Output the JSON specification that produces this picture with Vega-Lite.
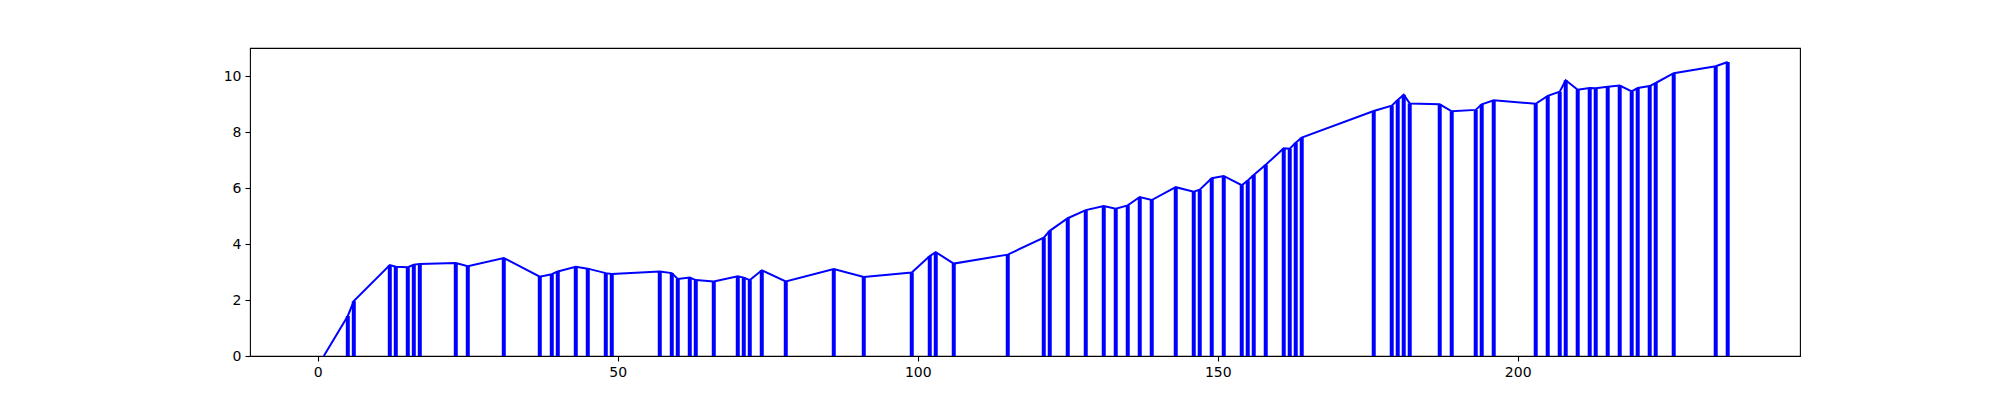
{
  "$schema": "https://vega.github.io/schema/vega-lite/v6.json",
  "autosize": {"type": "none"},
  "padding": {"left": 250, "top": 48, "right": 200, "bottom": 44},
  "width": 1550,
  "height": 308,
  "background": "white",
  "config": {
    "view": {"stroke": "black", "strokeWidth": 1.1},
    "axis": {
      "grid": false,
      "domain": false,
      "ticks": true,
      "tickColor": "black",
      "tickSize": 5,
      "tickWidth": 1.1,
      "labelFont": "DejaVu Sans",
      "labelFontSize": 14,
      "labelColor": "black",
      "labelPadding": 4,
      "title": null
    }
  },
  "data": {
    "values": [
      {"x": 1, "v": 0},
      {"x": 5, "v": 1.43},
      {"x": 6, "v": 1.96},
      {"x": 12, "v": 3.25},
      {"x": 13, "v": 3.19},
      {"x": 15, "v": 3.17},
      {"x": 16, "v": 3.26},
      {"x": 17, "v": 3.29},
      {"x": 23, "v": 3.32},
      {"x": 25, "v": 3.21},
      {"x": 31, "v": 3.5},
      {"x": 37, "v": 2.83},
      {"x": 39, "v": 2.92},
      {"x": 40, "v": 3.02},
      {"x": 43, "v": 3.19},
      {"x": 45, "v": 3.12},
      {"x": 48, "v": 2.96},
      {"x": 49, "v": 2.93},
      {"x": 57, "v": 3.02},
      {"x": 59, "v": 2.96},
      {"x": 60, "v": 2.75},
      {"x": 62, "v": 2.8},
      {"x": 63, "v": 2.71},
      {"x": 66, "v": 2.66},
      {"x": 70, "v": 2.85},
      {"x": 71, "v": 2.8},
      {"x": 72, "v": 2.71},
      {"x": 74, "v": 3.06},
      {"x": 78, "v": 2.66},
      {"x": 86, "v": 3.11},
      {"x": 91, "v": 2.82},
      {"x": 99, "v": 2.98},
      {"x": 102, "v": 3.57},
      {"x": 103, "v": 3.71},
      {"x": 106, "v": 3.3},
      {"x": 115, "v": 3.62},
      {"x": 121, "v": 4.23},
      {"x": 122, "v": 4.47},
      {"x": 125, "v": 4.92},
      {"x": 128, "v": 5.21},
      {"x": 131, "v": 5.36},
      {"x": 133, "v": 5.26},
      {"x": 135, "v": 5.38},
      {"x": 137, "v": 5.68},
      {"x": 139, "v": 5.57},
      {"x": 143, "v": 6.03},
      {"x": 146, "v": 5.87},
      {"x": 147, "v": 5.94},
      {"x": 149, "v": 6.35},
      {"x": 151, "v": 6.43},
      {"x": 154, "v": 6.1},
      {"x": 155, "v": 6.27},
      {"x": 156, "v": 6.46},
      {"x": 158, "v": 6.83},
      {"x": 161, "v": 7.42},
      {"x": 162, "v": 7.4},
      {"x": 163, "v": 7.62},
      {"x": 164, "v": 7.8},
      {"x": 176, "v": 8.75},
      {"x": 179, "v": 8.94},
      {"x": 180, "v": 9.14},
      {"x": 181, "v": 9.33},
      {"x": 182, "v": 9.02},
      {"x": 187, "v": 8.99},
      {"x": 189, "v": 8.74},
      {"x": 193, "v": 8.79},
      {"x": 194, "v": 8.99},
      {"x": 196, "v": 9.13},
      {"x": 203, "v": 9.01},
      {"x": 205, "v": 9.29},
      {"x": 207, "v": 9.44},
      {"x": 208, "v": 9.85},
      {"x": 210, "v": 9.51},
      {"x": 212, "v": 9.57},
      {"x": 213, "v": 9.56},
      {"x": 215, "v": 9.62},
      {"x": 217, "v": 9.66},
      {"x": 219, "v": 9.45},
      {"x": 220, "v": 9.57},
      {"x": 222, "v": 9.64},
      {"x": 223, "v": 9.75},
      {"x": 226, "v": 10.1},
      {"x": 233, "v": 10.35},
      {"x": 235, "v": 10.5}
    ]
  },
  "encoding": {
    "x": {
      "field": "x",
      "type": "quantitative",
      "scale": {"domain": [-11.3, 247.05], "nice": false, "zero": false},
      "axis": {"values": [0, 50, 100, 150, 200]}
    },
    "y": {
      "field": "v",
      "type": "quantitative",
      "scale": {"domain": [0, 11], "nice": false},
      "axis": {"values": [0, 2, 4, 6, 8, 10]}
    }
  },
  "layer": [
    {
      "mark": {"type": "rule", "color": "#0000ff", "strokeWidth": 4},
      "encoding": {"y2": {"datum": 0}}
    },
    {
      "mark": {"type": "line", "color": "#0000ff", "strokeWidth": 2}
    }
  ]
}
